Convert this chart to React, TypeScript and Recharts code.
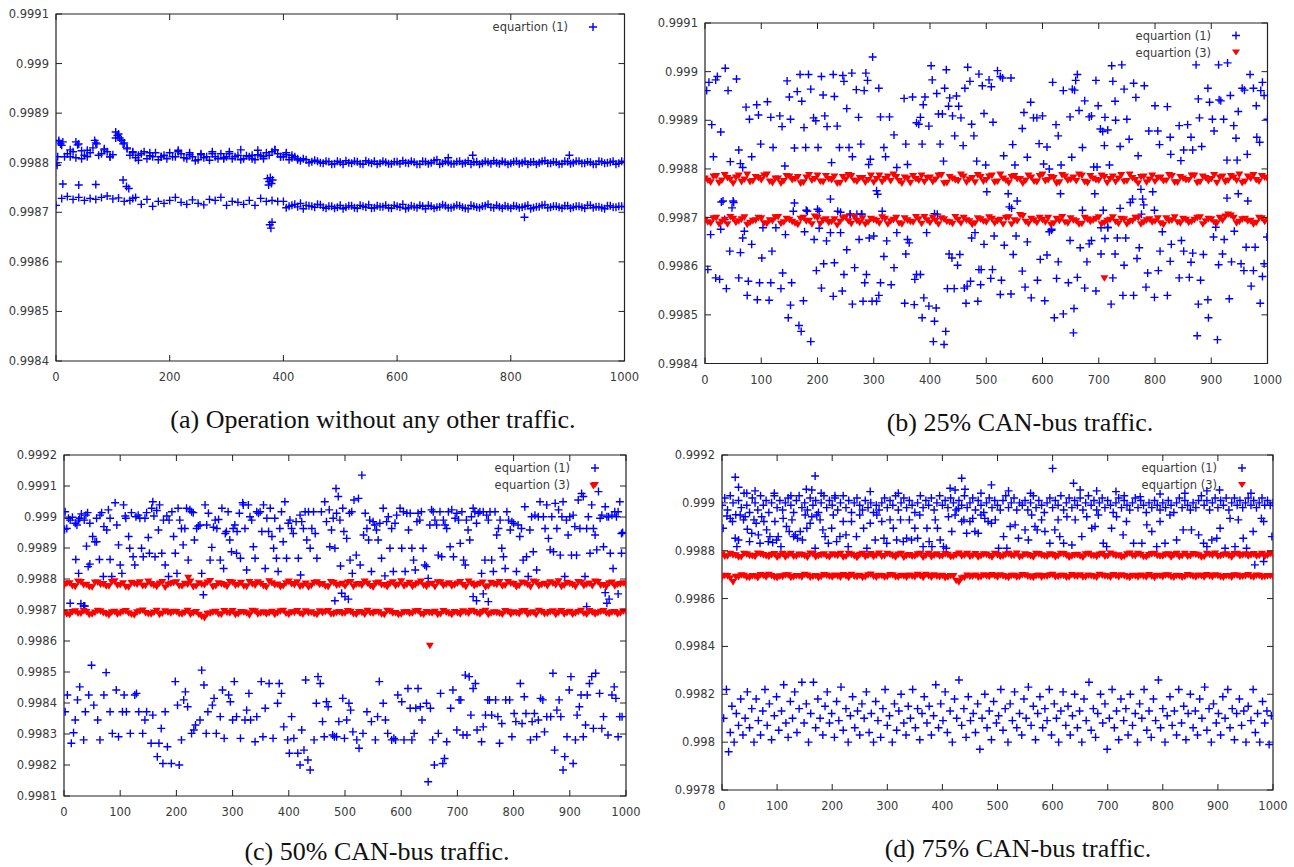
import React from 'react';
import { ScatterChart, Scatter, XAxis, YAxis, ReferenceArea } from 'recharts';

const NAME1 = 'equartion (1)';
const NAME3 = 'equartion (3)';

const xTicksA = [0, 200, 400, 600, 800, 1000];
const xTicksB = [0, 100, 200, 300, 400, 500, 600, 700, 800, 900, 1000];
const yTicksA = [0.9984, 0.9985, 0.9986, 0.9987, 0.9988, 0.9989, 0.999, 0.9991];
const yTicksC = [0.9981, 0.9982, 0.9983, 0.9984, 0.9985, 0.9986, 0.9987, 0.9988, 0.9989, 0.999, 0.9991, 0.9992];
const yTicksD = [0.9978, 0.998, 0.9982, 0.9984, 0.9986, 0.9988, 0.999, 0.9992];

// (a) samples at 0, 10, 20 ... and at 5, 15, 25 ...
const aUpper = [
  0.998800, 0.998835, 0.998818, 0.998822, 0.998838, 0.998815, 0.998820, 0.998840, 0.998818, 0.998822,
  0.998816, 0.998858, 0.998840, 0.998815, 0.998810, 0.998818, 0.998808, 0.998812, 0.998806, 0.998815,
  0.998820, 0.998812, 0.998818, 0.998808, 0.998812, 0.998806, 0.998810, 0.998805, 0.998812, 0.998818,
  0.998812, 0.998808, 0.998815, 0.998808, 0.998812, 0.998806, 0.998814, 0.998820, 0.998822, 0.998818,
  0.998812, 0.998806, 0.998812, 0.998804, 0.998806, 0.998802, 0.998803, 0.998799, 0.998802, 0.998798,
  0.998801, 0.998804, 0.998799, 0.998802, 0.998797, 0.998801, 0.998803, 0.998799, 0.998801, 0.998798,
  0.998802, 0.998804, 0.998799, 0.998801, 0.998797, 0.998802, 0.998800, 0.998806, 0.998799, 0.998801,
  0.998798, 0.998803, 0.998800, 0.998797, 0.998802, 0.998799, 0.998801, 0.998804, 0.998798, 0.998801,
  0.998799, 0.998803, 0.998800, 0.998797, 0.998802, 0.998800, 0.998804, 0.998799, 0.998801, 0.998798,
  0.998802, 0.998800, 0.998803, 0.998799, 0.998801, 0.998797, 0.998802, 0.998800, 0.998803, 0.998799,
  0.998801,
];
const aUpperMid = [
  0.998842, 0.998812, 0.998826, 0.998810, 0.998824, 0.998812, 0.998830, 0.998815, 0.998826, 0.998812,
  0.998850, 0.998846, 0.998828, 0.998820, 0.998815, 0.998822, 0.998814, 0.998820, 0.998812, 0.998808,
  0.998812, 0.998822, 0.998810, 0.998816, 0.998804, 0.998816, 0.998812, 0.998818, 0.998808, 0.998810,
  0.998818, 0.998812, 0.998806, 0.998814, 0.998808, 0.998816, 0.998808, 0.998815, 0.998826, 0.998812,
  0.998816, 0.998810, 0.998806, 0.998808, 0.998800, 0.998805, 0.998800, 0.998803, 0.998797, 0.998803,
  0.998797, 0.998800, 0.998803, 0.998798, 0.998804, 0.998799, 0.998797, 0.998803, 0.998798, 0.998802,
  0.998798, 0.998800, 0.998803, 0.998797, 0.998803, 0.998798, 0.998804, 0.998797, 0.998803, 0.998798,
  0.998802, 0.998798, 0.998804, 0.998801, 0.998797, 0.998803, 0.998798, 0.998800, 0.998803, 0.998797,
  0.998802, 0.998798, 0.998803, 0.998801, 0.998797, 0.998803, 0.998799, 0.998802, 0.998797, 0.998803,
  0.998798, 0.998803, 0.998799, 0.998802, 0.998797, 0.998803, 0.998799, 0.998801, 0.998797, 0.998803,
];
const aLower = [
  0.998714, 0.998728, 0.998732, 0.998726, 0.998730, 0.998724, 0.998728, 0.998726, 0.998730, 0.998733,
  0.998727, 0.998729, 0.998722, 0.998724, 0.998730, 0.998716, 0.998726, 0.998712, 0.998722, 0.998718,
  0.998724, 0.998730, 0.998720, 0.998716, 0.998725, 0.998718, 0.998715, 0.998726, 0.998724, 0.998730,
  0.998714, 0.998722, 0.998720, 0.998716, 0.998724, 0.998714, 0.998728, 0.998722, 0.998724, 0.998722,
  0.998722, 0.998712, 0.998716, 0.998718, 0.998714, 0.998712, 0.998716, 0.998710, 0.998712, 0.998708,
  0.998714, 0.998710, 0.998713, 0.998708, 0.998712, 0.998715, 0.998709, 0.998711, 0.998714, 0.998708,
  0.998712, 0.998716, 0.998709, 0.998711, 0.998714, 0.998707, 0.998712, 0.998710, 0.998715, 0.998709,
  0.998711, 0.998713, 0.998708, 0.998714, 0.998710, 0.998712, 0.998716, 0.998709, 0.998711, 0.998713,
  0.998708, 0.998712, 0.998710, 0.998714, 0.998709, 0.998711, 0.998715, 0.998710, 0.998712, 0.998708,
  0.998713, 0.998710, 0.998712, 0.998708, 0.998714, 0.998711, 0.998709, 0.998713, 0.998710, 0.998712,
  0.998711,
];
// samples 405, 415 ... 995
const aLowerMid = [
  0.998709, 0.998714, 0.998711, 0.998707, 0.998713, 0.998710, 0.998715, 0.998708, 0.998712, 0.998710,
  0.998707, 0.998713, 0.998709, 0.998714, 0.998710, 0.998708, 0.998713, 0.998711, 0.998709, 0.998714,
  0.998710, 0.998707, 0.998713, 0.998709, 0.998712, 0.998714, 0.998708, 0.998711, 0.998713, 0.998709,
  0.998714, 0.998710, 0.998707, 0.998712, 0.998709, 0.998713, 0.998710, 0.998714, 0.998708, 0.998711,
  0.998713, 0.998709, 0.998712, 0.998707, 0.998711, 0.998714, 0.998709, 0.998712, 0.998710, 0.998713,
  0.998708, 0.998712, 0.998710, 0.998714, 0.998709, 0.998711, 0.998707, 0.998713, 0.998710, 0.998712,
];
const aExtra: [number, number][] = [
  [5, 0.998845], [8, 0.998838], [12, 0.998842], [3, 0.998812], [2, 0.998795], [35, 0.998842], [38, 0.998836],
  [68, 0.998845], [72, 0.998838], [105, 0.998862], [108, 0.998855], [112, 0.99885], [115, 0.998845],
  [118, 0.998838], [125, 0.99883], [25, 0.998812], [45, 0.998808], [55, 0.998825], [85, 0.998828],
  [95, 0.998812], [135, 0.998822], [145, 0.998805], [165, 0.99882], [185, 0.998812], [215, 0.998825],
  [235, 0.99882], [255, 0.998818], [275, 0.998822], [295, 0.998808], [305, 0.998822], [325, 0.998826],
  [345, 0.998815], [355, 0.998825], [365, 0.998812], [385, 0.998826], [395, 0.998812], [405, 0.99882],
  [415, 0.998815], [425, 0.998808], [372, 0.998768], [375, 0.998762], [377, 0.99877], [379, 0.998758],
  [381, 0.998765], [374, 0.998755], [376, 0.998675], [378, 0.998668], [380, 0.99868], [733, 0.998815],
  [903, 0.998815], [690, 0.99881], [824, 0.99869], [12, 0.998757], [40, 0.998755], [70, 0.998756],
  [118, 0.998765], [124, 0.998752], [128, 0.998748], [135, 0.998728],
];

// (b)
const bBlue: [number, number][] = [
  [3, 0.998961], [7, 0.998978], [12, 0.998891], [15, 0.998825], [19, 0.998983], [22, 0.99899], [28, 0.998876],
  [29, 0.998732], [32, 0.998734], [36, 0.999007], [41, 0.998961], [45, 0.998815], [50, 0.998734], [51, 0.998731],
  [56, 0.998985], [60, 0.998839], [63, 0.998811], [67, 0.998803], [73, 0.998927], [79, 0.998902], [83, 0.998825],
  [92, 0.998932], [95, 0.998911], [99, 0.998851], [111, 0.998938], [117, 0.998906], [121, 0.998844],
  [133, 0.998909], [137, 0.998887], [142, 0.998806], [146, 0.998981], [150, 0.998948], [152, 0.998902],
  [157, 0.998713], [159, 0.998843], [164, 0.998959], [169, 0.998994], [172, 0.998939], [176, 0.998885],
  [179, 0.998844], [182, 0.998713], [184, 0.998994], [188, 0.998964], [193, 0.998905], [197, 0.998899],
  [201, 0.998844], [203, 0.998713], [207, 0.99899], [210, 0.998952], [213, 0.998909], [217, 0.998887],
  [223, 0.998738], [225, 0.998813], [228, 0.998994], [230, 0.998949], [235, 0.998888], [239, 0.998844],
  [241, 0.998711], [245, 0.998992], [247, 0.99898], [252, 0.998924], [256, 0.998844], [258, 0.998707],
  [261, 0.998997], [262, 0.998825], [269, 0.998963], [273, 0.998906], [277, 0.998851], [279, 0.998707],
  [283, 0.998961], [286, 0.998997], [289, 0.998982], [291, 0.998809], [294, 0.99882], [298, 0.99903],
  [305, 0.998755], [307, 0.998748], [309, 0.998966], [312, 0.998907], [318, 0.998844], [321, 0.998825],
  [328, 0.998907], [336, 0.99887], [341, 0.998803], [354, 0.998945], [357, 0.998851], [360, 0.998809],
  [369, 0.998948], [376, 0.998895], [380, 0.998892], [383, 0.998906], [386, 0.998851], [388, 0.998932],
  [391, 0.998948], [398, 0.998888], [402, 0.999012], [404, 0.998983], [408, 0.998708], [412, 0.998955],
  [415, 0.998913], [418, 0.998851], [422, 0.998913], [424, 0.998816], [426, 0.998966], [429, 0.999004],
  [433, 0.998929], [435, 0.998946], [440, 0.998909], [444, 0.998868], [447, 0.99895], [451, 0.998929],
  [455, 0.998905], [459, 0.998848], [462, 0.998966], [467, 0.999009], [471, 0.99898], [474, 0.998892],
  [478, 0.998868], [483, 0.998816], [487, 0.998995],
  [496, 0.998914], [499, 0.998808], [493, 0.998971], [505, 0.998983], [509, 0.998969], [512, 0.998896],
  [520, 0.999002], [525, 0.99899], [529, 0.998987], [544, 0.998987], [531, 0.998827], [547, 0.99885],
  [551, 0.998808], [564, 0.998883], [567, 0.998916], [573, 0.998824], [579, 0.998937], [584, 0.998905],
  [590, 0.998905], [600, 0.998909], [594, 0.998852], [608, 0.998845], [602, 0.99881], [612, 0.9988],
  [618, 0.998978], [624, 0.998891], [628, 0.998868], [633, 0.998808], [637, 0.998961], [649, 0.998907],
  [653, 0.998964], [657, 0.998962], [659, 0.998982], [665, 0.99892], [662, 0.998994], [652, 0.998824],
  [671, 0.998844], [675, 0.99894], [683, 0.998907], [687, 0.998909], [695, 0.998982], [699, 0.99893],
  [703, 0.998882], [707, 0.998877], [711, 0.998906], [716, 0.99888], [710, 0.998848], [719, 0.998808],
  [691, 0.998804], [697, 0.998804], [723, 0.999012], [725, 0.99898], [729, 0.998939], [730, 0.9989],
  [738, 0.998846], [741, 0.999014], [745, 0.998964], [750, 0.998902], [754, 0.998861], [762, 0.998976],
  [766, 0.998947], [770, 0.998827], [781, 0.998971], [789, 0.998878], [800, 0.99893], [805, 0.998878],
  [808, 0.99885], [822, 0.998928], [827, 0.998865], [828, 0.99883], [843, 0.998889], [846, 0.998817],
  [851, 0.998839], [858, 0.998891], [864, 0.998865], [867, 0.998839], [873, 0.999014], [877, 0.998944],
  [879, 0.998905], [883, 0.998846], [894, 0.998966], [897, 0.998937], [902, 0.998902], [905, 0.998878],
  [913, 0.999014], [914, 0.998942], [917, 0.99894], [922, 0.998902], [929, 0.999018], [934, 0.998951],
  [940, 0.998889], [944, 0.998863], [948, 0.998918], [955, 0.998966], [959, 0.998962], [964, 0.99883],
  [969, 0.998994], [975, 0.998966], [980, 0.99893], [981, 0.998865], [986, 0.998855], [988, 0.998961],
  [991, 0.998978], [994, 0.998951], [1000, 0.998902], [946, 0.998818], [928, 0.998818],
  [501, 0.998753], [539, 0.998749], [541, 0.998722], [545, 0.998719], [555, 0.998734], [632, 0.998749],
  [671, 0.998715], [693, 0.998749], [708, 0.998715], [738, 0.998719], [756, 0.998731], [760, 0.998738],
  [775, 0.998758], [778, 0.998738], [780, 0.998726], [796, 0.998753], [799, 0.998715], [776, 0.998707],
  [928, 0.99874], [948, 0.998749], [965, 0.998734], [616, 0.998676], [704, 0.998679], [716, 0.998679],
  [5, 0.998593], [10, 0.998665], [19, 0.998576], [26, 0.998573], [28, 0.998676], [35, 0.998696],
  [38, 0.998554], [44, 0.998631], [48, 0.99872], [60, 0.998576], [63, 0.998628], [67, 0.998658],
  [70, 0.998672], [75, 0.99854], [77, 0.998569], [83, 0.998645], [93, 0.998531], [97, 0.998566],
  [101, 0.998617], [103, 0.998679], [114, 0.99853], [117, 0.998566], [119, 0.998631], [126, 0.998679],
  [135, 0.998554], [138, 0.998586], [143, 0.998665], [148, 0.998494], [152, 0.99852], [154, 0.998566],
  [159, 0.99873], [167, 0.998478], [171, 0.998466], [175, 0.998529], [177, 0.998671], [180, 0.998715],
  [188, 0.998445], [194, 0.998655], [198, 0.998591], [200, 0.998717], [203, 0.998678], [207, 0.998555],
  [211, 0.998605], [216, 0.998652], [223, 0.998669], [228, 0.998538], [230, 0.998607], [236, 0.998713],
  [241, 0.998669], [244, 0.998549], [247, 0.998583], [252, 0.998634], [258, 0.998707], [262, 0.998522],
  [266, 0.998597], [270, 0.998707], [274, 0.998655], [278, 0.998707], [281, 0.998528], [284, 0.998566],
  [287, 0.998583], [292, 0.998658], [297, 0.998528], [300, 0.998662], [305, 0.998528], [309, 0.99854],
  [312, 0.998566], [315, 0.998713], [318, 0.99862], [323, 0.998652], [331, 0.998562], [336, 0.998597],
  [341, 0.998669], [355, 0.998524], [357, 0.998625], [360, 0.998655], [363, 0.998648], [372, 0.998521],
  [373, 0.998573], [376, 0.998583], [383, 0.998583], [386, 0.998494], [389, 0.998535], [394, 0.998669],
  [398, 0.998518], [406, 0.998445], [408, 0.998487], [411, 0.998514], [413, 0.998707], [425, 0.998439],
  [428, 0.998466], [431, 0.998554], [434, 0.998625], [439, 0.998617], [443, 0.998554], [449, 0.998602],
  [453, 0.998624], [461, 0.998555], [464, 0.998524], [466, 0.998559], [472, 0.998569], [474, 0.998658],
  [480, 0.998669], [485, 0.998528], [487, 0.998593], [490, 0.998562],
  [491, 0.998593], [496, 0.998645], [508, 0.998575], [511, 0.998593], [514, 0.998662], [525, 0.998542],
  [527, 0.998571], [532, 0.998643], [544, 0.998543], [548, 0.998624], [553, 0.998662], [564, 0.99859],
  [569, 0.998557], [573, 0.99865], [580, 0.998535], [591, 0.998571], [596, 0.998614], [604, 0.998529],
  [608, 0.998623], [612, 0.998671], [616, 0.998674], [621, 0.998494], [625, 0.998575], [628, 0.998609],
  [637, 0.998502], [646, 0.998566], [649, 0.998653], [656, 0.998513], [655, 0.998463], [662, 0.998577],
  [667, 0.998638], [675, 0.998555], [679, 0.998609], [683, 0.998646], [687, 0.998653], [695, 0.998549],
  [704, 0.998625], [711, 0.998657], [716, 0.99868], [722, 0.998522], [725, 0.998576], [729, 0.998625],
  [733, 0.998658], [745, 0.998602], [748, 0.998658], [743, 0.99854], [762, 0.99854], [768, 0.998616],
  [772, 0.998638], [784, 0.998557], [787, 0.998586], [799, 0.998536], [806, 0.998591], [809, 0.998631],
  [813, 0.998671], [822, 0.99854], [827, 0.99861], [829, 0.998645], [843, 0.998576], [847, 0.998653],
  [851, 0.998631], [861, 0.998577], [864, 0.998608], [867, 0.998627], [877, 0.998522], [881, 0.998571],
  [886, 0.998624], [894, 0.998531], [895, 0.998494], [904, 0.99866], [908, 0.99868], [913, 0.998603],
  [920, 0.998625], [923, 0.998655], [932, 0.998533], [936, 0.998609], [941, 0.998672], [953, 0.998605],
  [958, 0.998591], [962, 0.998639], [971, 0.998559], [975, 0.998591], [978, 0.998639], [987, 0.998524],
  [991, 0.998579], [994, 0.998605], [999, 0.99866], [875, 0.998457], [911, 0.998449],
];
const bRedUpper = [
  0.998780, 0.998772, 0.998785, 0.998776, 0.998781, 0.998770, 0.998786, 0.998778, 0.998773, 0.998783,
  0.998777, 0.998788, 0.998771, 0.998780, 0.998775, 0.998784, 0.998779, 0.998770, 0.998782, 0.998776,
  0.998786, 0.998773, 0.998779, 0.998784, 0.998771, 0.998778, 0.998785, 0.998774, 0.998781, 0.998777,
  0.998772, 0.998786, 0.998779, 0.998775, 0.998783, 0.998770, 0.998780, 0.998785, 0.998776, 0.998773,
  0.998782, 0.998778, 0.998787, 0.998771, 0.998780, 0.998775, 0.998784, 0.998778, 0.998772, 0.998783,
  0.998777, 0.998786, 0.998774, 0.998780, 0.998771, 0.998785, 0.998779, 0.998776, 0.998782, 0.998773,
  0.998788, 0.998777, 0.998781, 0.998772, 0.998784, 0.998778, 0.998775, 0.998786, 0.998771, 0.998780,
  0.998776, 0.998783, 0.998779, 0.998773, 0.998787, 0.998775, 0.998781, 0.998770, 0.998784, 0.998778,
  0.998774, 0.998782, 0.998776, 0.998785, 0.998772, 0.998780, 0.998777, 0.998786, 0.998773, 0.998781,
  0.998779, 0.998771, 0.998784, 0.998776, 0.998782, 0.998788, 0.998774, 0.998780, 0.998777, 0.998785,
  0.998779,
];
const bRedUpperMid = [
  0.998776, 0.998784, 0.998771, 0.998787, 0.998778, 0.998782, 0.998773, 0.998788, 0.998775, 0.998781,
  0.998786, 0.998774, 0.998780, 0.998770, 0.998785, 0.998777, 0.998783, 0.998772, 0.998787, 0.998779,
  0.998774, 0.998785, 0.998777, 0.998770, 0.998783, 0.998787, 0.998776, 0.998781, 0.998772, 0.998786,
  0.998779, 0.998773, 0.998784, 0.998788, 0.998775, 0.998782, 0.998771, 0.998779, 0.998786, 0.998781,
  0.998773, 0.998786, 0.998770, 0.998783, 0.998777, 0.998788, 0.998772, 0.998781, 0.998787, 0.998774,
  0.998784, 0.998772, 0.998788, 0.998776, 0.998783, 0.998779, 0.998770, 0.998786, 0.998774, 0.998785,
  0.998775, 0.998783, 0.998770, 0.998787, 0.998776, 0.998782, 0.998788, 0.998773, 0.998785, 0.998777,
  0.998786, 0.998771, 0.998784, 0.998780, 0.998774, 0.998788, 0.998777, 0.998783, 0.998772, 0.998786,
  0.998781, 0.998775, 0.998787, 0.998772, 0.998783, 0.998777, 0.998786, 0.998771, 0.998784, 0.998775,
  0.998787, 0.998782, 0.998773, 0.998785, 0.998776, 0.998771, 0.998784, 0.998787, 0.998774, 0.998782,
];
const bRedLower = [
  0.998695, 0.998688, 0.998699, 0.998691, 0.998686, 0.998697, 0.998692, 0.998700, 0.998689, 0.998694,
  0.998698, 0.998687, 0.998693, 0.998701, 0.998690, 0.998695, 0.998688, 0.998697, 0.998692, 0.998686,
  0.998699, 0.998694, 0.998689, 0.998696, 0.998691, 0.998700, 0.998687, 0.998693, 0.998698, 0.998690,
  0.998695, 0.998688, 0.998697, 0.998692, 0.998699, 0.998686, 0.998694, 0.998690, 0.998696, 0.998701,
  0.998689, 0.998693, 0.998698, 0.998691, 0.998687, 0.998695, 0.998699, 0.998692, 0.998688, 0.998696,
  0.998690, 0.998697, 0.998693, 0.998686, 0.998700, 0.998694, 0.998705, 0.998691, 0.998697, 0.998689,
  0.998695, 0.998699, 0.998688, 0.998693, 0.998690, 0.998698, 0.998692, 0.998687, 0.998696, 0.998694,
  0.998700, 0.998689, 0.998695, 0.998691, 0.998697, 0.998686, 0.998693, 0.998699, 0.998690, 0.998696,
  0.998692, 0.998688, 0.998698, 0.998694, 0.998690, 0.998697, 0.998689, 0.998695, 0.998700, 0.998692,
  0.998696, 0.998688, 0.998694, 0.998706, 0.998699, 0.998691, 0.998697, 0.998693, 0.998689, 0.998698,
  0.998695,
];
const bRedLowerMid = [
  0.998690, 0.998698, 0.998686, 0.998695, 0.998701, 0.998689, 0.998696, 0.998685, 0.998693, 0.998699,
  0.998688, 0.998694, 0.998700, 0.998687, 0.998697, 0.998691, 0.998685, 0.998699, 0.998693, 0.998702,
  0.998687, 0.998696, 0.998691, 0.998684, 0.998698, 0.998692, 0.998701, 0.998689, 0.998686, 0.998697,
  0.998693, 0.998700, 0.998686, 0.998695, 0.998688, 0.998698, 0.998691, 0.998701, 0.998687, 0.998694,
  0.998699, 0.998686, 0.998696, 0.998690, 0.998701, 0.998688, 0.998694, 0.998685, 0.998698, 0.998692,
  0.998700, 0.998688, 0.998695, 0.998699, 0.998686, 0.998692, 0.998703, 0.998687, 0.998694, 0.998699,
  0.998690, 0.998685, 0.998697, 0.998701, 0.998688, 0.998694, 0.998686, 0.998699, 0.998691, 0.998697,
  0.998686, 0.998693, 0.998700, 0.998687, 0.998696, 0.998691, 0.998699, 0.998686, 0.998694, 0.998690,
  0.998698, 0.998685, 0.998693, 0.998700, 0.998688, 0.998695, 0.998691, 0.998699, 0.998686, 0.998697,
  0.998690, 0.998699, 0.998702, 0.998704, 0.998688, 0.998696, 0.998692, 0.998686, 0.998699, 0.998691,
];
const bRedExtra: [number, number][] = [[710, 0.998575]];

// (c)
const cBlue: [number, number][] = [
  [1, 0.99896], [2, 0.999017], [5, 0.998963], [8, 0.998996], [11, 0.99899], [15, 0.998999], [20, 0.99898],
  [23, 0.998974], [26, 0.99899], [28, 0.998996], [31, 0.99901], [36, 0.99899], [39, 0.999006], [42, 0.999014],
  [46, 0.99898], [21, 0.998863], [26, 0.998818], [30, 0.99872], [37, 0.998713], [40, 0.998906], [43, 0.99884],
  [46, 0.998848], [51, 0.998937], [55, 0.99892], [58, 0.99892], [63, 0.998863], [58, 0.998996], [64, 0.999006],
  [67, 0.999014], [70, 0.998808], [71, 0.998969], [76, 0.998958], [79, 0.999023], [82, 0.998996], [85, 0.998808],
  [82, 0.998863], [91, 0.999046], [94, 0.998974], [97, 0.99891], [100, 0.998845], [103, 0.998818],
  [106, 0.999039], [109, 0.999003], [110, 0.998996], [115, 0.998937], [117, 0.998899], [120, 0.999014],
  [123, 0.998872], [126, 0.998845], [128, 0.999001], [132, 0.999006], [135, 0.998996], [138, 0.998899],
  [141, 0.998872], [144, 0.998996], [147, 0.999014], [150, 0.998934], [152, 0.998883], [156, 0.999028],
  [158, 0.999049], [160, 0.999003], [162, 0.998872], [165, 0.999021], [168, 0.998958], [170, 0.999039],
  [174, 0.998883], [177, 0.99899], [180, 0.998845], [183, 0.999003], [186, 0.998808], [187, 0.99899],
  [192, 0.999017], [195, 0.998937], [198, 0.998883], [201, 0.998818], [203, 0.999028], [206, 0.99899],
  [209, 0.998963], [212, 0.99891], [215, 0.998963], [218, 0.999028], [221, 0.998861], [224, 0.999023],
  [227, 0.999017], [230, 0.999014], [232, 0.998926], [236, 0.998963], [239, 0.998971], [242, 0.998974],
  [245, 0.998818], [248, 0.998749], [251, 0.999039], [254, 0.998974], [257, 0.999012], [260, 0.998861],
  [263, 0.998902], [266, 0.998967], [269, 0.99899], [272, 0.998963], [275, 0.998992], [278, 0.998861],
  [281, 0.999028], [284, 0.998834], [287, 0.998947], [289, 0.998953], [292, 0.999017], [295, 0.998926],
  [298, 0.998888], [301, 0.998963], [304, 0.998974], [307, 0.998883], [308, 0.998953], [312, 0.999012],
  [314, 0.998867], [318, 0.999046], [319, 0.999039], [322, 0.998963], [325, 0.998829], [328, 0.999039],
  [331, 0.999001], [334, 0.99899], [337, 0.998904], [340, 0.998867], [343, 0.999017], [346, 0.999012],
  [349, 0.999017], [352, 0.998953], [355, 0.999039], [358, 0.998834], [361, 0.998996], [364, 0.998953],
  [367, 0.999028], [370, 0.998937], [373, 0.998899], [375, 0.998996], [378, 0.998867], [381, 0.998824],
  [384, 0.998963], [387, 0.999017], [390, 0.99892], [393, 0.999049], [396, 0.998867], [399, 0.99898],
  [402, 0.99899], [405, 0.998963], [408, 0.998947], [413, 0.998985], [417, 0.998867], [420, 0.999006],
  [421, 0.998813], [423, 0.998985], [426, 0.998963], [429, 0.999017], [432, 0.998926], [435, 0.999017],
  [438, 0.998899], [441, 0.998963], [444, 0.999017], [447, 0.998947], [450, 0.998867], [11, 0.998722],
  [35, 0.998713],
  [458, 0.999017], [464, 0.999049], [467, 0.998985], [472, 0.999023], [476, 0.998958], [473, 0.998904],
  [482, 0.998899], [479, 0.998996], [485, 0.999012], [484, 0.999092], [488, 0.999066], [492, 0.998842],
  [491, 0.99899], [496, 0.999028], [498, 0.998953], [503, 0.998931], [508, 0.999012], [512, 0.999017],
  [509, 0.998861], [513, 0.998818], [516, 0.999055], [520, 0.998877], [524, 0.99906], [527, 0.998845],
  [530, 0.999135], [533, 0.998942], [536, 0.999012], [539, 0.998963], [542, 0.998926], [544, 0.99899],
  [547, 0.998824], [550, 0.998985], [553, 0.998974], [556, 0.998958], [559, 0.998926], [562, 0.99898],
  [565, 0.998867], [568, 0.999028], [571, 0.99881], [574, 0.998985], [577, 0.999001], [580, 0.998899],
  [583, 0.998963], [586, 0.998824], [589, 0.99898], [592, 0.999006], [598, 0.999028], [601, 0.998899],
  [604, 0.999017], [607, 0.998824], [610, 0.999012], [613, 0.998958], [616, 0.999012], [619, 0.998899],
  [622, 0.998861], [625, 0.998829], [628, 0.998985], [630, 0.999012], [633, 0.99899], [636, 0.999017],
  [639, 0.998899], [642, 0.998845], [645, 0.99884], [648, 0.998802], [651, 0.998974], [654, 0.999023],
  [657, 0.999017], [660, 0.99899], [663, 0.998974], [666, 0.998877], [669, 0.999017], [672, 0.998872],
  [675, 0.99899], [678, 0.998974], [681, 0.998963], [684, 0.999017], [687, 0.998904], [690, 0.999023],
  [693, 0.998872], [696, 0.998996], [699, 0.999012], [702, 0.99899], [705, 0.998915], [708, 0.999017],
  [711, 0.998861], [714, 0.998845], [716, 0.99899], [719, 0.998958], [722, 0.998926], [725, 0.999001],
  [728, 0.999028], [731, 0.999017], [734, 0.99898], [737, 0.999012], [740, 0.999017], [743, 0.998818],
  [746, 0.999017], [749, 0.998861], [752, 0.999006], [755, 0.99899], [758, 0.999017], [761, 0.998861],
  [764, 0.998824], [767, 0.999017], [770, 0.998942], [773, 0.998963], [776, 0.99899], [779, 0.998899],
  [782, 0.998872], [785, 0.998834], [788, 0.999017], [791, 0.99899], [794, 0.998958], [797, 0.998985],
  [800, 0.99898], [805, 0.998824], [808, 0.998974], [811, 0.998937], [814, 0.998963], [817, 0.998861],
  [820, 0.999033], [823, 0.998872], [826, 0.998808], [829, 0.998958], [832, 0.999001], [835, 0.998888],
  [838, 0.999006], [841, 0.998829], [844, 0.999001], [847, 0.999049], [853, 0.999001], [856, 0.998963],
  [859, 0.999039], [862, 0.998931], [865, 0.998894], [868, 0.999001], [871, 0.998888], [874, 0.999044],
  [877, 0.998963], [880, 0.999023], [883, 0.998877], [886, 0.999001], [888, 0.999049], [891, 0.998808],
  [894, 0.99899], [897, 0.998942], [900, 0.999001], [903, 0.998877], [906, 0.999006], [909, 0.998969],
  [912, 0.998877], [915, 0.999055], [918, 0.998963], [921, 0.999076], [924, 0.999066], [927, 0.998808],
  [930, 0.998963], [933, 0.999001], [936, 0.998883], [939, 0.999039], [942, 0.998963], [945, 0.998942],
  [948, 0.998894], [951, 0.999082], [954, 0.998996], [957, 0.999006], [960, 0.998904], [963, 0.999033],
  [966, 0.999001], [969, 0.999001], [972, 0.998883], [975, 0.999006], [977, 0.998834], [980, 0.999017],
  [983, 0.999001], [986, 0.999017], [989, 0.999049], [992, 0.998883], [992, 0.998947], [994, 0.99895],
  [482, 0.99873], [494, 0.998754], [500, 0.998743], [506, 0.998735], [728, 0.998743], [734, 0.99873],
  [746, 0.998752], [755, 0.998727], [930, 0.998711], [963, 0.998756], [966, 0.998722], [970, 0.998735],
  [986, 0.998752],
];
const cBlueLow: [number, number][] = [
  [2, 0.998372], [6, 0.998426], [13, 0.99827], [17, 0.998304], [20, 0.998345], [24, 0.99841], [28, 0.998452],
  [35, 0.998281], [38, 0.998372], [44, 0.998426], [49, 0.998522], [53, 0.998393], [60, 0.998345],
  [64, 0.998281], [71, 0.998426], [75, 0.998498], [82, 0.998372], [86, 0.998302], [93, 0.998442],
  [97, 0.998291], [104, 0.998372], [107, 0.998426], [111, 0.998372], [118, 0.998302], [126, 0.998426],
  [129, 0.998431], [133, 0.998372], [140, 0.998302], [144, 0.998345], [147, 0.998372], [155, 0.99827],
  [158, 0.998361], [166, 0.998227], [169, 0.99827], [173, 0.998318], [176, 0.998205], [180, 0.998372],
  [184, 0.998259], [191, 0.998205], [198, 0.998469], [202, 0.998393], [205, 0.9982], [209, 0.998281],
  [213, 0.99841], [216, 0.998436], [220, 0.998388], [227, 0.998302], [231, 0.998313], [234, 0.998329],
  [242, 0.998345], [245, 0.998506], [249, 0.998458], [253, 0.998302], [256, 0.998372], [264, 0.998393],
  [267, 0.998415], [271, 0.998302], [278, 0.998356], [282, 0.998442], [285, 0.998286], [293, 0.998426],
  [296, 0.998404], [300, 0.998345], [303, 0.998469], [307, 0.998356], [314, 0.998286], [322, 0.998345],
  [325, 0.998377], [329, 0.998431], [332, 0.998345], [340, 0.998275], [343, 0.998356], [351, 0.998469],
  [354, 0.998291], [358, 0.998383], [365, 0.998463], [372, 0.998286], [380, 0.998399], [383, 0.998463],
  [387, 0.998431], [391, 0.998323], [398, 0.998281], [401, 0.998238], [405, 0.998356], [409, 0.998286],
  [416, 0.998238], [420, 0.9982], [423, 0.998313], [427, 0.998248], [430, 0.998474], [434, 0.998216],
  [438, 0.998184], [445, 0.998281], [449, 0.998399], [452, 0.998485], [456, 0.998463], [460, 0.99834],
  [463, 0.998291], [467, 0.998404], [470, 0.998388], [478, 0.998297], [481, 0.998291], [485, 0.998291],
  [489, 0.99834], [496, 0.998415], [499, 0.998286], [503, 0.998345], [507, 0.998399], [510, 0.998377],
  [514, 0.998307], [521, 0.998281], [525, 0.998254], [532, 0.998302], [539, 0.998372], [547, 0.99834],
  [554, 0.998281], [558, 0.998356], [561, 0.998469], [568, 0.998399], [572, 0.998345], [576, 0.998302],
  [583, 0.998281], [587, 0.998286], [590, 0.998281], [594, 0.998426], [601, 0.998404], [605, 0.998281],
  [612, 0.998447], [616, 0.998383], [619, 0.998281], [623, 0.998302], [626, 0.998383], [630, 0.998447],
  [634, 0.998388], [637, 0.998345], [645, 0.998399], [648, 0.998146], [652, 0.998383], [656, 0.998281],
  [659, 0.9982], [666, 0.998302], [670, 0.998431], [674, 0.998205], [677, 0.998221], [681, 0.998275],
  [688, 0.998383], [692, 0.998442], [699, 0.998313], [703, 0.99841], [706, 0.99841], [710, 0.998297],
  [714, 0.99849], [717, 0.998297], [721, 0.998485], [724, 0.998361], [728, 0.998447], [732, 0.998463],
  [735, 0.998313], [743, 0.998275], [746, 0.998323], [750, 0.998361], [754, 0.99841], [757, 0.99841],
  [761, 0.998361], [768, 0.99841], [772, 0.998356], [775, 0.99827], [779, 0.998334], [786, 0.99841],
  [793, 0.99841], [797, 0.998291], [801, 0.998366], [804, 0.99834], [812, 0.998463], [815, 0.998334],
  [819, 0.99842], [822, 0.998366], [830, 0.998281], [833, 0.99834], [837, 0.998366], [841, 0.998291],
  [844, 0.998345], [848, 0.998415], [852, 0.99841], [855, 0.998307], [859, 0.998356], [866, 0.998356],
  [870, 0.998496], [873, 0.998248], [877, 0.998377], [881, 0.99841], [884, 0.998356], [888, 0.998184],
  [891, 0.998227], [895, 0.998291], [899, 0.998442], [902, 0.998485], [906, 0.998205], [910, 0.998281],
  [913, 0.998361], [917, 0.998388], [920, 0.998426], [924, 0.998291], [928, 0.998329], [931, 0.998426],
  [935, 0.998463], [939, 0.998485], [942, 0.998318], [946, 0.998496], [953, 0.998431], [957, 0.998318],
  [960, 0.998356], [968, 0.998297], [975, 0.998426], [979, 0.998452], [982, 0.998415], [986, 0.998291],
  [989, 0.998356], [993, 0.998356],
];
const cRedUpper = [
  0.998778, 0.998786, 0.998775, 0.998790, 0.998781, 0.998773, 0.998788, 0.998783, 0.998776, 0.998792,
  0.998780, 0.998774, 0.998787, 0.998782, 0.998777, 0.998791, 0.998779, 0.998785, 0.998772, 0.998784,
  0.998789, 0.998776, 0.998782, 0.998774, 0.998786, 0.998780, 0.998793, 0.998777, 0.998783, 0.998775,
  0.998788, 0.998781, 0.998776, 0.998790, 0.998779, 0.998784, 0.998773, 0.998786, 0.998782, 0.998777,
  0.998791, 0.998780, 0.998775, 0.998785, 0.998778, 0.998789, 0.998783, 0.998774, 0.998787, 0.998781,
  0.998776, 0.998790, 0.998782, 0.998779, 0.998785, 0.998773, 0.998788, 0.998780, 0.998784, 0.998777,
  0.998792, 0.998781, 0.998775, 0.998786, 0.998779, 0.998783, 0.998774, 0.998789, 0.998782, 0.998776,
  0.998785, 0.998780, 0.998791, 0.998777, 0.998784, 0.998773, 0.998787, 0.998781, 0.998776, 0.998790,
  0.998783, 0.998778, 0.998786, 0.998774, 0.998789, 0.998781, 0.998777, 0.998785, 0.998792, 0.998779,
  0.998784, 0.998775, 0.998788, 0.998782, 0.998777, 0.998790, 0.998780, 0.998786, 0.998776, 0.998783,
  0.998781,
];
const cRedUpperMid = [
  0.998785, 0.998777, 0.998791, 0.998780, 0.998774, 0.998788, 0.998782, 0.998776, 0.998790, 0.998779,
  0.998786, 0.998773, 0.998784, 0.998789, 0.998778, 0.998783, 0.998775, 0.998790, 0.998781, 0.998787,
  0.998777, 0.998784, 0.998791, 0.998776, 0.998782, 0.998788, 0.998774, 0.998786, 0.998780, 0.998790,
  0.998779, 0.998787, 0.998775, 0.998783, 0.998789, 0.998777, 0.998792, 0.998780, 0.998774, 0.998786,
  0.998783, 0.998789, 0.998778, 0.998773, 0.998787, 0.998781, 0.998776, 0.998790, 0.998779, 0.998784,
  0.998788, 0.998775, 0.998783, 0.998791, 0.998777, 0.998786, 0.998780, 0.998774, 0.998789, 0.998782,
  0.998776, 0.998787, 0.998780, 0.998791, 0.998775, 0.998784, 0.998789, 0.998778, 0.998786, 0.998780,
  0.998790, 0.998774, 0.998785, 0.998781, 0.998788, 0.998776, 0.998783, 0.998790, 0.998779, 0.998785,
  0.998774, 0.998788, 0.998781, 0.998791, 0.998777, 0.998784, 0.998789, 0.998780, 0.998775, 0.998787,
  0.998781, 0.998790, 0.998777, 0.998785, 0.998791, 0.998779, 0.998774, 0.998788, 0.998782, 0.998786,
];
const cRedLower = [
  0.998691, 0.998684, 0.998695, 0.998688, 0.998693, 0.998686, 0.998697, 0.998690, 0.998683, 0.998694,
  0.998689, 0.998696, 0.998685, 0.998692, 0.998698, 0.998687, 0.998691, 0.998684, 0.998695, 0.998689,
  0.998693, 0.998686, 0.998697, 0.998690, 0.998684, 0.998674, 0.998688, 0.998694, 0.998685, 0.998691,
  0.998696, 0.998687, 0.998692, 0.998683, 0.998695, 0.998689, 0.998686, 0.998694, 0.998690, 0.998697,
  0.998685, 0.998691, 0.998688, 0.998695, 0.998692, 0.998684, 0.998690, 0.998696, 0.998687, 0.998693,
  0.998689, 0.998694, 0.998685, 0.998691, 0.998697, 0.998688, 0.998692, 0.998684, 0.998695, 0.998690,
  0.998686, 0.998693, 0.998689, 0.998696, 0.998685, 0.998691, 0.998694, 0.998687, 0.998692, 0.998684,
  0.998690, 0.998695, 0.998688, 0.998693, 0.998686, 0.998697, 0.998689, 0.998691, 0.998685, 0.998694,
  0.998692, 0.998687, 0.998696, 0.998690, 0.998684, 0.998693, 0.998688, 0.998695, 0.998691, 0.998686,
  0.998694, 0.998689, 0.998697, 0.998685, 0.998692, 0.998690, 0.998696, 0.998687, 0.998693, 0.998689,
  0.998694,
];
const cRedLowerMid = [
  0.998686, 0.998693, 0.998688, 0.998696, 0.998684, 0.998691, 0.998695, 0.998687, 0.998692, 0.998686,
  0.998694, 0.998689, 0.998683, 0.998695, 0.998690, 0.998686, 0.998697, 0.998688, 0.998692, 0.998694,
  0.998687, 0.998691, 0.998685, 0.998693, 0.998678, 0.998687, 0.998692, 0.998686, 0.998696, 0.998689,
  0.998684, 0.998693, 0.998689, 0.998697, 0.998686, 0.998692, 0.998690, 0.998684, 0.998695, 0.998688,
  0.998692, 0.998696, 0.998685, 0.998690, 0.998687, 0.998695, 0.998693, 0.998686, 0.998691, 0.998688,
  0.998696, 0.998687, 0.998693, 0.998685, 0.998690, 0.998694, 0.998686, 0.998697, 0.998689, 0.998684,
  0.998692, 0.998688, 0.998695, 0.998687, 0.998693, 0.998689, 0.998684, 0.998696, 0.998688, 0.998693,
  0.998686, 0.998692, 0.998697, 0.998689, 0.998694, 0.998684, 0.998692, 0.998688, 0.998696, 0.998686,
  0.998690, 0.998695, 0.998685, 0.998692, 0.998697, 0.998687, 0.998693, 0.998684, 0.998696, 0.998690,
  0.998685, 0.998693, 0.998688, 0.998696, 0.998686, 0.998694, 0.998689, 0.998692, 0.998686, 0.998695,
];
const cRedExtra: [number, number][] = [[651, 0.998584], [942, 0.9991], [221, 0.998803]];

// (d) dense band sampled every 5 indexes
const dBand = [
  0.99899, 0.99902, 0.99897, 0.99903, 0.99900, 0.99895, 0.99901, 0.99898, 0.99904, 0.99899,
  0.99896, 0.99902, 0.99900, 0.99897, 0.99903, 0.99899, 0.99901, 0.99896, 0.99900, 0.99903,
  0.99898, 0.99901, 0.99897, 0.99900, 0.99902, 0.99899, 0.99896, 0.99901, 0.99903, 0.99898,
  0.99900, 0.99897, 0.99902, 0.99899, 0.99901, 0.99896, 0.99900, 0.99903, 0.99898, 0.99901,
  0.99899, 0.99902, 0.99897, 0.99900, 0.99903, 0.99898, 0.99901, 0.99896, 0.99900, 0.99902,
  0.99899, 0.99897, 0.99901, 0.99898, 0.99900, 0.99896, 0.99899, 0.99897, 0.99900, 0.99902,
  0.99898, 0.99901, 0.99899, 0.99903, 0.99897, 0.99900, 0.99902, 0.99898, 0.99901, 0.99899,
  0.99896, 0.99900, 0.99903, 0.99898, 0.99901, 0.99899, 0.99902, 0.99897, 0.99900, 0.99903,
  0.99899, 0.99901, 0.99898, 0.99902, 0.99900, 0.99897, 0.99901, 0.99899, 0.99903, 0.99898,
  0.99900, 0.99902, 0.99897, 0.99901, 0.99899, 0.99896, 0.99900, 0.99902, 0.99898, 0.99901,
  0.99899, 0.99897, 0.99901, 0.99903, 0.99898, 0.99900, 0.99902, 0.99897, 0.99900, 0.99899,
  0.99901, 0.99897, 0.99900, 0.99903, 0.99898, 0.99901, 0.99899, 0.99896, 0.99900, 0.99902,
  0.99898, 0.99901, 0.99899, 0.99903, 0.99897, 0.99900, 0.99902, 0.99898, 0.99901, 0.99899,
  0.99902, 0.99897, 0.99900, 0.99903, 0.99899, 0.99901, 0.99897, 0.99900, 0.99902, 0.99898,
  0.99901, 0.99899, 0.99896, 0.99900, 0.99902, 0.99898, 0.99901, 0.99899, 0.99897, 0.99900,
  0.99902, 0.99898, 0.99901, 0.99899, 0.99896, 0.99900, 0.99898, 0.99901, 0.99899, 0.99897,
  0.99900, 0.99898, 0.99901, 0.99899, 0.99896, 0.99900, 0.99902, 0.99898, 0.99901, 0.99899,
  0.99897, 0.99900, 0.99898, 0.99901, 0.99903, 0.99899, 0.99901, 0.99897, 0.99900, 0.99902,
  0.99898, 0.99901, 0.99899, 0.99902, 0.99897, 0.99900, 0.99902, 0.99899, 0.99901, 0.99898,
  0.99900, 0.99902, 0.99899, 0.99901, 0.99898, 0.99900, 0.99902, 0.99899, 0.99901, 0.99899,
  0.99900,
];
const dBlue: [number, number][] = [
  [2, 0.998894], [9, 0.998945], [15, 0.998935], [19, 0.998922], [24, 0.998852], [27, 0.998817], [30, 0.998845],
  [33, 0.998949], [39, 0.998929], [42, 0.998942], [46, 0.99889], [50, 0.998838], [54, 0.998873], [58, 0.998929],
  [62, 0.998915], [66, 0.998866], [69, 0.998831], [72, 0.998942], [76, 0.998922], [81, 0.998887], [84, 0.998838],
  [87, 0.998859], [92, 0.998834], [96, 0.998922], [99, 0.998845], [102, 0.998859], [107, 0.998817],
  [111, 0.998935], [117, 0.998901], [122, 0.99888], [127, 0.998929], [130, 0.998859], [133, 0.998866],
  [137, 0.998852], [142, 0.99888], [146, 0.998845], [151, 0.998949], [154, 0.998894], [160, 0.998915],
  [163, 0.998942], [169, 0.99881], [172, 0.998949], [178, 0.998929], [183, 0.998887], [187, 0.998859],
  [193, 0.998831], [199, 0.998894], [202, 0.998949], [208, 0.998838], [214, 0.998859], [220, 0.998922],
  [225, 0.998866], [229, 0.998817], [235, 0.998922], [244, 0.998859], [250, 0.998949], [257, 0.998894],
  [263, 0.99881], [269, 0.998915], [278, 0.998845], [281, 0.998949], [290, 0.998922], [294, 0.998852],
  [299, 0.998831], [305, 0.998929], [311, 0.998894], [317, 0.998845], [324, 0.998929], [329, 0.998838],
  [335, 0.998852], [340, 0.998929], [344, 0.998845], [350, 0.998894], [355, 0.998852], [359, 0.998949],
  [365, 0.998817], [372, 0.998894], [376, 0.998838], [381, 0.998817], [387, 0.998929], [391, 0.998894],
  [396, 0.998845], [402, 0.998817], [407, 0.99881], [411, 0.998942], [417, 0.99888], [423, 0.998949],
  [429, 0.998977], [435, 0.998922], [439, 0.998929], [444, 0.998873], [450, 0.998922], [455, 0.998935],
  [459, 0.99888], [465, 0.998873], [470, 0.998949], [477, 0.998935], [483, 0.998922],
  [24, 0.999107], [169, 0.999112], [435, 0.999103], [30, 0.999065], [269, 0.999047], [153, 0.999057],
  [163, 0.999054], [414, 0.999061], [423, 0.999054], [441, 0.999057],
  [489, 0.998915], [496, 0.998929], [502, 0.99881], [511, 0.998859], [517, 0.99881], [523, 0.998901],
  [532, 0.998908], [538, 0.998852], [550, 0.998887], [556, 0.998845], [562, 0.998949], [568, 0.998901],
  [572, 0.998887], [580, 0.998929], [586, 0.99888], [595, 0.998831], [604, 0.998887], [610, 0.998929],
  [613, 0.998859], [620, 0.998831], [626, 0.998942], [635, 0.998824], [641, 0.998929], [653, 0.998859],
  [662, 0.998942], [671, 0.998894], [677, 0.998901], [683, 0.998949], [692, 0.998831], [698, 0.998817],
  [707, 0.998894], [716, 0.998942], [728, 0.998866], [734, 0.998922], [747, 0.998831], [762, 0.998831],
  [771, 0.998908], [780, 0.99888], [789, 0.998817], [795, 0.998922], [804, 0.998831], [813, 0.998949],
  [825, 0.998845], [837, 0.998887], [852, 0.998887], [865, 0.998866], [874, 0.998831], [880, 0.998817],
  [889, 0.998845], [898, 0.998852], [904, 0.998894], [913, 0.99881], [922, 0.998935], [931, 0.998817],
  [937, 0.998929], [946, 0.998852], [952, 0.99881], [964, 0.99888], [979, 0.998935], [983, 0.998922],
  [998, 0.998859], [967, 0.998741], [983, 0.998755],
  [600, 0.999144], [638, 0.999082], [650, 0.999054], [489, 0.999075], [715, 0.999047], [759, 0.999026],
  [795, 0.999037], [903, 0.999054],
  [45, 0.99904], [60, 0.99905], [95, 0.99904], [125, 0.99903], [180, 0.99904], [205, 0.99903], [320, 0.99904],
  [470, 0.99904], [520, 0.99905], [560, 0.99904], [680, 0.99905], [730, 0.99903], [840, 0.99904],
  [880, 0.99905], [960, 0.99904],
];
const dBlueLow: [number, number][] = [
  [3, 0.9981], [8, 0.99822], [12, 0.99796], [15, 0.99804], [18, 0.99815], [22, 0.998], [26, 0.99812],
  [30, 0.99807], [34, 0.99818], [38, 0.99803], [42, 0.9981], [46, 0.99821], [50, 0.99806], [54, 0.99814],
  [58, 0.998], [62, 0.99818], [66, 0.99809], [70, 0.99803], [74, 0.99813], [78, 0.99822], [82, 0.99807],
  [86, 0.99816], [90, 0.99801], [95, 0.99811], [99, 0.99819], [103, 0.99805], [108, 0.99813], [112, 0.99824],
  [116, 0.99808], [120, 0.99802], [124, 0.99817], [128, 0.9981], [132, 0.99821], [136, 0.99804], [140, 0.99814],
  [145, 0.99825], [149, 0.99808], [153, 0.99816], [157, 0.998], [161, 0.99812], [166, 0.99825], [170, 0.99806],
  [174, 0.99818], [178, 0.9981], [183, 0.99803], [187, 0.99815], [191, 0.99821], [195, 0.99808], [199, 0.99812],
  [204, 0.99802], [208, 0.99817], [212, 0.99809], [216, 0.99823], [220, 0.99805], [225, 0.99814], [229, 0.998],
  [233, 0.99811], [237, 0.99819], [241, 0.99806], [246, 0.99813], [250, 0.99803], [254, 0.99816], [258, 0.9981],
  [262, 0.99821], [267, 0.99804], [271, 0.99812], [275, 0.998], [279, 0.99817], [283, 0.99809], [288, 0.99802],
  [292, 0.99814], [296, 0.99822], [300, 0.99807], [304, 0.99811], [309, 0.998], [313, 0.99816], [317, 0.99805],
  [321, 0.99813], [325, 0.9982], [330, 0.99808], [334, 0.99803], [338, 0.99815], [342, 0.9981], [346, 0.99822],
  [351, 0.99806], [355, 0.99814], [359, 0.99801], [363, 0.99812], [367, 0.99819], [372, 0.99808], [376, 0.99815],
  [380, 0.99803], [384, 0.99811], [388, 0.99824], [393, 0.99806], [397, 0.99816], [401, 0.99809], [405, 0.99821],
  [409, 0.99804], [414, 0.99813], [418, 0.998], [422, 0.99818], [426, 0.9981], [430, 0.99826], [435, 0.99807],
  [439, 0.99814], [443, 0.99802], [447, 0.99819], [451, 0.99809], [456, 0.99812], [460, 0.99804], [464, 0.99816],
  [468, 0.99797], [472, 0.9981], [477, 0.9982], [481, 0.99806], [485, 0.99813], [489, 0.99801], [493, 0.99817],
  [498, 0.99808], [502, 0.99811], [506, 0.99822], [510, 0.99805], [514, 0.99814], [519, 0.998], [523, 0.99816],
  [527, 0.99809], [531, 0.99821], [535, 0.99806], [540, 0.99812], [544, 0.99803], [548, 0.99818], [552, 0.9981],
  [556, 0.99823], [561, 0.99807], [565, 0.99815], [569, 0.99801], [573, 0.99812], [577, 0.99819], [582, 0.99806],
  [586, 0.99814], [590, 0.99809], [594, 0.99822], [598, 0.99803], [603, 0.99816], [607, 0.9981], [611, 0.998],
  [615, 0.99813], [619, 0.99821], [624, 0.99807], [628, 0.99815], [632, 0.99803], [636, 0.99811], [640, 0.9982],
  [645, 0.99806], [649, 0.99813], [653, 0.998], [657, 0.99818], [661, 0.99809], [666, 0.99825], [670, 0.99805],
  [674, 0.99814], [678, 0.99802], [682, 0.99812], [687, 0.9982], [691, 0.99808], [695, 0.99816], [699, 0.99797],
  [703, 0.9981], [708, 0.99822], [712, 0.99806], [716, 0.99813], [720, 0.99801], [724, 0.99818], [729, 0.99809],
  [733, 0.99814], [737, 0.99803], [741, 0.9982], [745, 0.99807], [750, 0.99812], [754, 0.998], [758, 0.99816],
  [762, 0.9981], [766, 0.99822], [771, 0.99805], [775, 0.99813], [779, 0.99802], [783, 0.99818], [787, 0.99809],
  [792, 0.99826], [796, 0.99806], [800, 0.99814], [804, 0.998], [808, 0.99811], [813, 0.99819], [817, 0.99807],
  [821, 0.99813], [825, 0.99803], [829, 0.99822], [834, 0.99808], [838, 0.99815], [842, 0.99801], [846, 0.99812],
  [850, 0.9982], [855, 0.99806], [859, 0.99813], [863, 0.99803], [867, 0.99818], [871, 0.9981], [876, 0.99823],
  [880, 0.99805], [884, 0.99814], [888, 0.998], [892, 0.99816], [897, 0.99808], [901, 0.99812], [905, 0.99803],
  [909, 0.99819], [913, 0.9981], [918, 0.99822], [922, 0.99806], [926, 0.99814], [930, 0.99801], [934, 0.99812],
  [939, 0.99818], [943, 0.99807], [947, 0.99813], [951, 0.998], [955, 0.99815], [960, 0.99809], [964, 0.99822],
  [968, 0.99804], [972, 0.99812], [976, 0.998], [981, 0.99817], [985, 0.99808], [989, 0.99813], [993, 0.99799],
  [997, 0.99811],
];
const dRedUpper = [
  0.998784, 0.998776, 0.998781, 0.998772, 0.998787, 0.998779, 0.998774, 0.998785, 0.998777, 0.998782,
  0.998771, 0.998786, 0.998780, 0.998775, 0.998783, 0.998778, 0.998788, 0.998773, 0.998781, 0.998776,
  0.998784, 0.998779, 0.998772, 0.998786, 0.998777, 0.998782, 0.998774, 0.998785, 0.998780, 0.998775,
  0.998787, 0.998778, 0.998783, 0.998771, 0.998781, 0.998776, 0.998786, 0.998779, 0.998773, 0.998784,
  0.998777, 0.998782, 0.998775, 0.998788, 0.998780, 0.998774, 0.998785, 0.998778, 0.998783, 0.998772,
  0.998781, 0.998776, 0.998786, 0.998779, 0.998773, 0.998784, 0.998777, 0.998787, 0.998780, 0.998775,
  0.998782, 0.998778, 0.998785, 0.998771, 0.998781, 0.998776, 0.998784, 0.998779, 0.998774, 0.998786,
  0.998777, 0.998783, 0.998780, 0.998775, 0.998788, 0.998778, 0.998782, 0.998773, 0.998785, 0.998779,
  0.998776, 0.998784, 0.998781, 0.998774, 0.998787, 0.998778, 0.998783, 0.998772, 0.998786, 0.998780,
  0.998775, 0.998782, 0.998779, 0.998785, 0.998777, 0.998784, 0.998781, 0.998776, 0.998786, 0.998780,
  0.998783,
];
const dRedUpperMid = [
  0.998775, 0.998786, 0.998780, 0.998773, 0.998784, 0.998777, 0.998788, 0.998781, 0.998774, 0.998785,
  0.998779, 0.998772, 0.998787, 0.998776, 0.998782, 0.998771, 0.998785, 0.998778, 0.998784, 0.998773,
  0.998781, 0.998787, 0.998775, 0.998783, 0.998770, 0.998786, 0.998779, 0.998774, 0.998788, 0.998777,
  0.998783, 0.998772, 0.998786, 0.998779, 0.998775, 0.998784, 0.998771, 0.998787, 0.998780, 0.998776,
  0.998785, 0.998773, 0.998781, 0.998776, 0.998786, 0.998779, 0.998772, 0.998784, 0.998777, 0.998787,
  0.998774, 0.998783, 0.998779, 0.998788, 0.998776, 0.998781, 0.998772, 0.998785, 0.998778, 0.998784,
  0.998773, 0.998787, 0.998780, 0.998776, 0.998782, 0.998771, 0.998786, 0.998779, 0.998783, 0.998775,
  0.998788, 0.998777, 0.998772, 0.998784, 0.998779, 0.998786, 0.998774, 0.998781, 0.998787, 0.998776,
  0.998783, 0.998772, 0.998786, 0.998778, 0.998775, 0.998785, 0.998780, 0.998774, 0.998783, 0.998788,
  0.998777, 0.998784, 0.998772, 0.998787, 0.998781, 0.998776, 0.998785, 0.998779, 0.998774, 0.998786,
];
const dRedLower = [
  0.998688, 0.998693, 0.998668, 0.998690, 0.998695, 0.998687, 0.998692, 0.998698, 0.998689, 0.998694,
  0.998686, 0.998691, 0.998697, 0.998690, 0.998693, 0.998699, 0.998688, 0.998694, 0.998691, 0.998696,
  0.998689, 0.998693, 0.998698, 0.998687, 0.998692, 0.998695, 0.998690, 0.998700, 0.998688, 0.998694,
  0.998691, 0.998697, 0.998689, 0.998693, 0.998696, 0.998690, 0.998694, 0.998699, 0.998688, 0.998692,
  0.998695, 0.998689, 0.998693, 0.998668, 0.998687, 0.998691, 0.998696, 0.998690, 0.998694, 0.998698,
  0.998689, 0.998693, 0.998687, 0.998695, 0.998691, 0.998697, 0.998690, 0.998694, 0.998688, 0.998692,
  0.998699, 0.998691, 0.998695, 0.998689, 0.998693, 0.998697, 0.998690, 0.998694, 0.998688, 0.998696,
  0.998692, 0.998698, 0.998690, 0.998694, 0.998687, 0.998693, 0.998696, 0.998689, 0.998692, 0.998695,
  0.998690, 0.998697, 0.998688, 0.998693, 0.998691, 0.998696, 0.998689, 0.998694, 0.998698, 0.998690,
  0.998695, 0.998688, 0.998693, 0.998697, 0.998690, 0.998694, 0.998691, 0.998696, 0.998689, 0.998693,
  0.998692,
];
const dRedLowerMid = [
  0.998695, 0.998684, 0.998690, 0.998697, 0.998688, 0.998693, 0.998686, 0.998695, 0.998699, 0.998689,
  0.998692, 0.998697, 0.998687, 0.998694, 0.998689, 0.998696, 0.998691, 0.998686, 0.998698, 0.998692,
  0.998696, 0.998688, 0.998693, 0.998699, 0.998690, 0.998687, 0.998697, 0.998692, 0.998695, 0.998689,
  0.998698, 0.998690, 0.998695, 0.998688, 0.998692, 0.998699, 0.998687, 0.998694, 0.998697, 0.998690,
  0.998686, 0.998694, 0.998674, 0.998684, 0.998696, 0.998692, 0.998688, 0.998697, 0.998691, 0.998694,
  0.998697, 0.998690, 0.998695, 0.998689, 0.998698, 0.998692, 0.998687, 0.998696, 0.998693, 0.998697,
  0.998690, 0.998695, 0.998688, 0.998698, 0.998692, 0.998689, 0.998696, 0.998691, 0.998699, 0.998693,
  0.998688, 0.998694, 0.998697, 0.998690, 0.998695, 0.998689, 0.998692, 0.998698, 0.998687, 0.998694,
  0.998697, 0.998690, 0.998695, 0.998688, 0.998698, 0.998692, 0.998696, 0.998689, 0.998693, 0.998697,
  0.998690, 0.998694, 0.998688, 0.998696, 0.998692, 0.998698, 0.998689, 0.998695, 0.998691, 0.998694,
];

type Pt = { x: number; y: number };
const fromBand = (vals: number[], step: number, start = 0): Pt[] =>
  vals.map((y, i) => ({ x: start + i * step, y }));
const fromPairs = (pts: [number, number][]): Pt[] => pts.map(([x, y]) => ({ x, y }));

const BLUE = '#0000ff';
const RED = '#ff0000';
const AXIS = '#222';
const LABEL = '#3a3a3a';
const TICK_FONT = '"DejaVu Sans", Verdana, sans-serif';

const PlusMark = (p: any) =>
  p.cx == null ? <g /> : (
    <path d={`M${p.cx - 4},${p.cy}h8M${p.cx},${p.cy - 4}v8`} stroke={BLUE} strokeWidth={1.4} fill="none" />
  );
const TriMark = (p: any) =>
  p.cx == null ? <g /> : <path d={`M${p.cx - 4},${p.cy - 3.2}h8l-4,6.6z`} fill={RED} />;

const fmt = (v: number) => String(Number(v.toFixed(4)));

type Box = { x0: number; y0: number; x1: number; y1: number };

function Panel(props: { box: Box; xTicks: number[]; yTicks: number[]; blue: Pt[]; red?: Pt[] }) {
  const { box, xTicks, yTicks, blue, red } = props;
  const w = box.x1 - box.x0;
  const h = box.y1 - box.y0;
  const yMin = yTicks[0];
  const yMax = yTicks[yTicks.length - 1];

  const xTick = (t: any) => (
    <g>
      <line x1={t.x} x2={t.x} y1={t.y} y2={t.y - 6} stroke={AXIS} />
      <line x1={t.x} x2={t.x} y1={t.y - h} y2={t.y - h + 6} stroke={AXIS} />
      <text x={t.x} y={t.y + 16} dy="0.35em" textAnchor="middle" fontSize={11.5} fontFamily={TICK_FONT} fill={LABEL}>
        {t.payload.value}
      </text>
    </g>
  );
  const yTick = (t: any) => (
    <g>
      <line x1={t.x} x2={t.x + 6} y1={t.y} y2={t.y} stroke={AXIS} />
      <line x1={t.x + w - 6} x2={t.x + w} y1={t.y} y2={t.y} stroke={AXIS} />
      <text x={t.x - 7} y={t.y} dy="0.35em" textAnchor="end" fontSize={11.5} fontFamily={TICK_FONT} fill={LABEL}>
        {fmt(t.payload.value)}
      </text>
    </g>
  );

  return (
    <div style={{ position: 'absolute', left: box.x0 - 60, top: box.y0 - 10 }}>
      <ScatterChart width={w + 90} height={h + 40} margin={{ top: 10, right: 30, bottom: 0, left: 0 }}>
        <XAxis
          type="number"
          dataKey="x"
          domain={[0, 1000]}
          ticks={xTicks}
          interval={0}
          height={30}
          tickSize={0}
          tickMargin={0}
          axisLine={false}
          tickLine={false}
          tick={xTick}
          allowDataOverflow
        />
        <YAxis
          type="number"
          dataKey="y"
          domain={[yMin, yMax]}
          ticks={yTicks}
          interval={0}
          width={60}
          tickSize={0}
          tickMargin={0}
          axisLine={false}
          tickLine={false}
          tick={yTick}
          allowDataOverflow
        />
        <ReferenceArea x1={0} x2={1000} y1={yMin} y2={yMax} fill="none" stroke={AXIS} strokeWidth={1.2} />
        <Scatter name={NAME1} data={blue} shape={PlusMark} isAnimationActive={false} />
        {red && <Scatter name={NAME3} data={red} shape={TriMark} isAnimationActive={false} />}
      </ScatterChart>
    </div>
  );
}

const boxA: Box = { x0: 55.5, y0: 14, x1: 624, y1: 361 };
const boxB: Box = { x0: 704.5, y0: 22.5, x1: 1267, y1: 363 };
const boxC: Box = { x0: 64, y0: 455, x1: 626, y1: 796 };
const boxD: Box = { x0: 722, y0: 455, x1: 1273, y1: 790 };

const captions = [
  { text: '(a) Operation without any other traffic.', x: 373, y: 428 },
  { text: '(b) 25% CAN-bus traffic.', x: 1020, y: 431 },
  { text: '(c) 50% CAN-bus traffic.', x: 377, y: 860 },
  { text: '(d) 75% CAN-bus traffic.', x: 1018, y: 857 },
];

function Keys({ box, names }: { box: Box; names: string[] }) {
  return (
    <g>
      {names.map((n, i) => {
        const y = box.y0 + 13 + i * 17;
        return (
          <g key={n}>
            <text x={box.x1 - 56} y={y} dy="0.35em" textAnchor="end" fontSize={11.5} fontFamily={TICK_FONT} fill={LABEL}>
              {n}
            </text>
            {n === NAME1 ? (
              <path d={`M${box.x1 - 35},${y}h8M${box.x1 - 31},${y - 4}v8`} stroke={BLUE} strokeWidth={1.4} />
            ) : (
              <path d={`M${box.x1 - 35},${y - 3}h8l-4,6z`} fill={RED} />
            )}
          </g>
        );
      })}
    </g>
  );
}

export default function App() {
  const aBlue = [
    ...fromBand(aUpper, 10),
    ...fromBand(aUpperMid, 10, 5),
    ...fromBand(aLower, 10),
    ...fromBand(aLowerMid, 10, 405),
    ...fromPairs(aExtra),
  ];
  const bRed = [
    ...fromBand(bRedUpper, 10),
    ...fromBand(bRedUpperMid, 10, 5),
    ...fromBand(bRedLower, 10),
    ...fromBand(bRedLowerMid, 10, 5),
    ...fromPairs(bRedExtra),
  ];
  const cBlueAll = [...fromPairs(cBlue), ...fromPairs(cBlueLow)];
  const cRed = [
    ...fromBand(cRedUpper, 10),
    ...fromBand(cRedUpperMid, 10, 5),
    ...fromBand(cRedLower, 10),
    ...fromBand(cRedLowerMid, 10, 5),
    ...fromPairs(cRedExtra),
  ];
  const dBlueAll = [...fromBand(dBand, 5), ...fromPairs(dBlue), ...fromPairs(dBlueLow)];
  const dRed = [
    ...fromBand(dRedUpper, 10),
    ...fromBand(dRedUpperMid, 10, 5),
    ...fromBand(dRedLower, 10),
    ...fromBand(dRedLowerMid, 10, 5),
  ];

  return (
    <div style={{ position: 'absolute', left: 0, top: 0, width: 1294, height: 867, background: '#fff', overflow: 'hidden' }}>
      <Panel box={boxA} xTicks={xTicksA} yTicks={yTicksA} blue={aBlue} />
      <Panel box={boxB} xTicks={xTicksB} yTicks={yTicksA} blue={fromPairs(bBlue)} red={bRed} />
      <Panel box={boxC} xTicks={xTicksB} yTicks={yTicksC} blue={cBlueAll} red={cRed} />
      <Panel box={boxD} xTicks={xTicksB} yTicks={yTicksD} blue={dBlueAll} red={dRed} />
      <svg width={1294} height={867} style={{ position: 'absolute', left: 0, top: 0, pointerEvents: 'none' }}>
        <Keys box={boxA} names={[NAME1]} />
        <Keys box={boxB} names={[NAME1, NAME3]} />
        <Keys box={boxC} names={[NAME1, NAME3]} />
        <Keys box={boxD} names={[NAME1, NAME3]} />
        {captions.map((c) => (
          <text key={c.text} x={c.x} y={c.y} textAnchor="middle" fontSize={26} fontFamily='"Liberation Serif", "Times New Roman", serif' fill="#111">
            {c.text}
          </text>
        ))}
      </svg>
    </div>
  );
}
